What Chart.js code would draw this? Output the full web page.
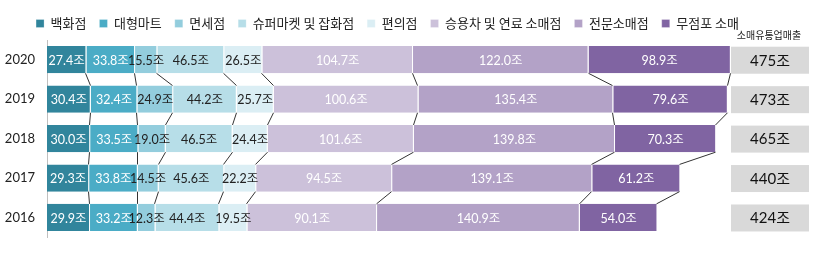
<!DOCTYPE html>
<html>
<head>
<meta charset="utf-8">
<script src="https://cdn.jsdelivr.net/npm/chart.js@4/dist/chart.umd.min.js"></script>
<style>
  body { margin: 0; background: #fff; }
  #wrap { width: 815px; height: 257px; }
</style>
</head>
<body>
<div id="wrap"><canvas id="retailChart"></canvas></div>
<script>
const years = ["2020", "2019", "2018", "2017", "2016"];
const seriesNames = ["백화점", "대형마트", "면세점", "슈퍼마켓 및 잡화점", "편의점", "승용차 및 연료 소매점", "전문소매점", "무점포 소매"];
const dept     = [27.4, 30.4, 30.0, 29.3, 29.9];
const mart     = [33.8, 32.4, 33.5, 33.8, 33.2];
const dutyFree = [15.5, 24.9, 19.0, 14.5, 12.3];
const superMkt = [46.5, 44.2, 46.5, 45.6, 44.4];
const convStore= [26.5, 25.7, 24.4, 22.2, 19.5];
const carFuel  = [104.7, 100.6, 101.6, 94.5, 90.1];
const special  = [122.0, 135.4, 139.8, 139.1, 140.9];
const online   = [98.9, 79.6, 70.3, 61.2, 54.0];
const totals   = ["475조", "473조", "465조", "440조", "424조"];
const tableTitle = "소매유통업매출";

const colors = ["#31859c", "#4bacc6", "#93cddd", "#b7dee8", "#dbeef4", "#ccc1da", "#b3a2c7", "#8064a2"];
const labelColors = ["#fff", "#fff", "#222", "#222", "#222", "#fff", "#fff", "#fff"];
const allSeries = [dept, mart, dutyFree, superMkt, convStore, carFuel, special, online];

const numFont = "Lato, 'Noto Sans CJK KR', sans-serif";

/* connector lines + value labels + totals table */
const extras = {
    id: "extras",
    afterDatasetsDraw(chart) {
        const ctx = chart.ctx;
        const x = chart.scales.x;
        // connectors between stacked boundaries
        ctx.save();
        ctx.strokeStyle = "#333";
        ctx.lineWidth = 1;
        for (let i = 0; i < years.length - 1; i++) {
            const upper = chart.getDatasetMeta(0).data[i];
            const lower = chart.getDatasetMeta(0).data[i + 1];
            const yTop = upper.y + upper.height / 2;
            const yBot = lower.y - lower.height / 2;
            let cumA = 0, cumB = 0;
            allSeries.forEach(s => {
                cumA += s[i]; cumB += s[i + 1];
                ctx.beginPath();
                ctx.moveTo(Math.round(x.getPixelForValue(cumA)) - 0.5, yTop);
                ctx.lineTo(Math.round(x.getPixelForValue(cumB)) - 0.5, yBot);
                ctx.stroke();
            });
        }
        // value labels
        ctx.font = "12.5px " + numFont;
        ctx.textAlign = "center";
        ctx.textBaseline = "middle";
        chart.data.datasets.forEach((ds, di) => {
            chart.getDatasetMeta(di).data.forEach((bar, i) => {
                const cx = (bar.base + bar.x) / 2;
                ctx.fillStyle = labelColors[di];
                ctx.fillText(ds.data[i].toFixed(1) + "조", cx, bar.y + 1);
            });
        });
        // totals table
        ctx.font = "10px 'Noto Sans CJK KR', sans-serif";
        ctx.fillStyle = "#222";
        const first = chart.getDatasetMeta(0).data[0];
        ctx.fillText(tableTitle, 769, first.y - first.height / 2 - 11);
        chart.getDatasetMeta(0).data.forEach((bar, i) => {
            ctx.fillStyle = "#d9d9d9";
            ctx.fillRect(731, bar.y - 13, 78, 27);
            ctx.fillStyle = "#111";
            ctx.font = "15px " + numFont;
            ctx.fillText(totals[i], 770, bar.y + 1);
        });
        ctx.restore();
    }
};

new Chart(document.getElementById("retailChart"), {
    type: "bar",
    data: {
        labels: years,
        datasets: allSeries.map((s, i) => ({
            label: seriesNames[i],
            data: s,
            backgroundColor: colors[i],
            borderColor: "#ffffff",
            borderWidth: { left: 0, right: 1, top: 0, bottom: 0 },
            borderSkipped: false,
            categoryPercentage: 0.69,
            barPercentage: 1
        }))
    },
    options: {
        indexAxis: "y",
        responsive: true,
        maintainAspectRatio: false,
        animation: false,
        layout: { padding: { left: 0, right: 40, top: 4, bottom: 2 } },
        scales: {
            x: {
                stacked: true,
                min: 0,
                max: 506,
                display: false
            },
            y: {
                stacked: true,
                grid: { display: false, drawTicks: false },
                border: { color: "#bfbfbf" },
                ticks: { color: "#222", padding: 12, font: { size: 13, family: numFont } },
                afterFit(scale) { scale.width = 47; }
            }
        },
        plugins: {
            legend: {
                position: "top",
                labels: {
                    boxWidth: 8,
                    boxHeight: 8,
                    padding: 13,
                    color: "#222",
                    font: { size: 13, family: "'Noto Sans CJK KR', sans-serif" }
                }
            },
            tooltip: { enabled: false }
        }
    },
    plugins: [extras]
});
</script>
</body>
</html>
